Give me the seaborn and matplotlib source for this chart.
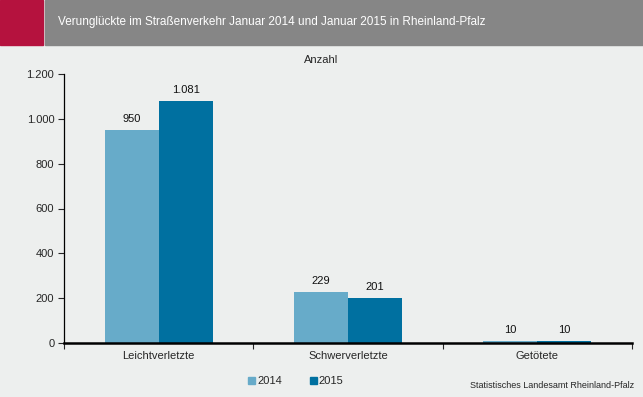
import pandas as pd
import matplotlib.pyplot as plt
import matplotlib.patches as mpatches
import seaborn as sns

categories = ['Leichtverletzte', 'Schwerverletzte', 'Getötete']
years = ['2014', '2015']
values_2014 = [950, 229, 10]
values_2015 = [1081, 201, 10]
colors = ['#67abc9', '#0070a0']

df = pd.DataFrame({
    'Kategorie': categories * 2,
    'Jahr': [years[0]] * 3 + [years[1]] * 3,
    'Anzahl': values_2014 + values_2015,
})

sns.set_style('white')
plt.rcParams['font.family'] = ['Liberation Sans', 'DejaVu Sans']
bg = '#edefee'

fig = plt.figure(figsize=(6.43, 3.97), dpi=100, facecolor=bg)

# header blocks
fig.patches.append(mpatches.Rectangle((0, 1 - 45 / 397), 43 / 643, 45 / 397,
                                      transform=fig.transFigure, color='#b5123e', zorder=0))
fig.patches.append(mpatches.Rectangle((45 / 643, 1 - 45 / 397), 598 / 643, 45 / 397,
                                      transform=fig.transFigure, color='#868686', zorder=0))
fig.text(58 / 643, 1 - 22 / 397, 'Verunglückte im Straßenverkehr Januar 2014 und Januar 2015 in Rheinland-Pfalz',
         color='white', fontsize=8.5, va='center', ha='left')

ax = fig.add_axes([64 / 643, 1 - 343 / 397, (632 - 64) / 643, (343 - 74) / 397])
ax.set_facecolor(bg)

sns.barplot(data=df, x='Kategorie', y='Anzahl', hue='Jahr', palette=colors,
            width=0.57, saturation=1, linewidth=0, edgecolor='none', ax=ax, legend=False)

for cont in ax.containers:
    labels = [f'{v:,.0f}'.replace(',', '.') for v in cont.datavalues]
    ax.bar_label(cont, labels=labels, padding=4, fontsize=8, color='#111111')

ax.set_ylim(0, 1200)
ax.set_xlim(-0.5, 2.5)
ax.set_yticks(range(0, 1201, 200))
ax.set_yticklabels([f'{v:,}'.replace(',', '.') for v in range(0, 1201, 200)], fontsize=8)
ax.set_xticks(range(3))
ax.set_xticklabels(categories, fontsize=8)
ax.tick_params(axis='x', length=0, pad=6)
ax.set_xticks([-0.5, 0.5, 1.5, 2.5], minor=True)
ax.tick_params(axis='x', which='minor', length=4, width=0.8, direction='out', bottom=True)
ax.tick_params(axis='y', length=4, width=0.8, direction='out', left=True, pad=3)
ax.set_xlabel('')
ax.set_ylabel('')

for s in ['top', 'right']:
    ax.spines[s].set_visible(False)
ax.spines['left'].set_linewidth(0.9)
ax.spines['left'].set_color('black')
ax.spines['bottom'].set_linewidth(1.8)
ax.spines['bottom'].set_color('black')

fig.text(0.5, 1 - 60 / 397, 'Anzahl', ha='center', va='center', fontsize=8)

handles = [mpatches.Patch(color=c, label=y) for c, y in zip(colors, years)]
fig.legend(handles=handles, loc='center', bbox_to_anchor=(296 / 643, 1 - 381 / 397),
           ncol=2, frameon=False, fontsize=8, handlelength=0.6, handleheight=0.6,
           handletextpad=0.2, columnspacing=2.5)

fig.text(634 / 643, 1 - 386 / 397, 'Statistisches Landesamt Rheinland-Pfalz',
         ha='right', va='center', fontsize=6.5)

plt.savefig('out.png', dpi=100, facecolor=bg)
